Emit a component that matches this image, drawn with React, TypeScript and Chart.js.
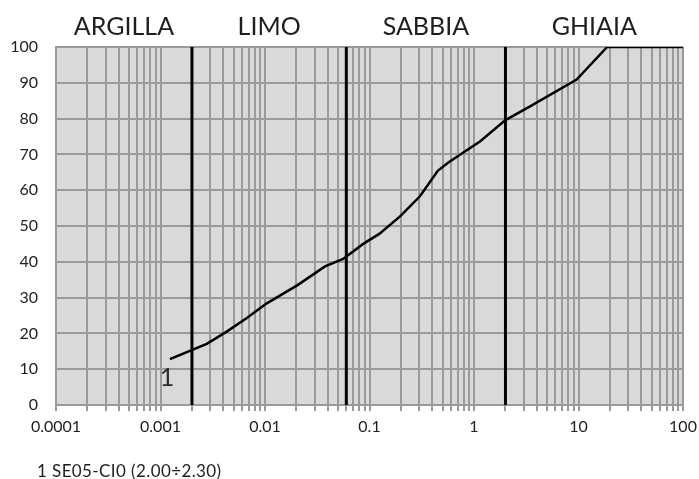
import React, { useEffect, useRef } from "react";
import { Chart, registerables } from "chart.js";

Chart.register(...registerables);

// Grain size curve: diameter (mm) vs percent passing
const grainSize = [0.00123, 0.00277, 0.0043, 0.0067, 0.0104, 0.0205, 0.0375, 0.056, 0.087, 0.124, 0.196, 0.304, 0.45, 0.56, 0.734, 1.14, 2, 3.44, 9.6, 18.8, 100];
const passing = [12.8, 17.1, 20.5, 24.3, 28.4, 33.5, 38.7, 40.8, 45.0, 47.8, 52.7, 58.3, 65.4, 67.6, 69.9, 73.6, 79.6, 83.4, 90.9, 100, 100];

// Soil class boundaries (mm) and class names
const zoneBounds = [0.002, 0.06, 2];
const zoneNames = ["ARGILLA", "LIMO", "SABBIA", "GHIAIA"];

// Axis extents and labels
const xDecades = [0.0001, 0.001, 0.01, 0.1, 1, 10, 100];
const xTickLabels = ["0.0001", "0.001", "0.01", "0.1", "1", "10", "100"];
const yMin = 0;
const yMax = 100;
const yStep = 10;

const curveTag = "1";
const sampleCaption = "1 SE05-CI0 (2.00÷2.30)";

const FONT = "Lato, 'Open Sans', sans-serif";
const GRID = "#9a9a9a";

const decorPlugin = {
  id: "decor",
  beforeDraw(chart: any) {
    const { ctx, chartArea } = chart;
    ctx.save();
    ctx.fillStyle = "#d9d9d9";
    ctx.fillRect(chartArea.left, chartArea.top, chartArea.right - chartArea.left, chartArea.bottom - chartArea.top);
    ctx.restore();
  },
  afterDraw(chart: any) {
    const { ctx, chartArea } = chart;
    const xs = chart.scales.x;
    ctx.save();
    // class names centred over each band
    const edges = [chartArea.left, ...zoneBounds.map((b) => xs.getPixelForValue(b)), chartArea.right];
    ctx.fillStyle = "#1e1e1e";
    ctx.font = `25px ${FONT}`;
    ctx.textAlign = "center";
    ctx.textBaseline = "middle";
    zoneNames.forEach((name, i) => {
      ctx.fillText(name, (edges[i] + edges[i + 1]) / 2, 27);
    });
    // curve tag near its first point
    const meta = chart.getDatasetMeta(0);
    const p0 = meta.data[0];
    ctx.font = `25px ${FONT}`;
    ctx.fillStyle = "#2a2a2a";
    ctx.fillText(curveTag, p0.x - 3, p0.y + 19);
    // sample caption
    ctx.font = `17px ${FONT}`;
    (ctx as any).letterSpacing = "0.4px";
    ctx.fillStyle = "#1e1e1e";
    ctx.textAlign = "left";
    ctx.textBaseline = "alphabetic";
    ctx.fillText(sampleCaption, 37, 477);
    ctx.restore();
  },
};

export default function App() {
  const ref = useRef<HTMLCanvasElement | null>(null);

  useEffect(() => {
    if (!ref.current) return;
    const curve = grainSize.map((x, i) => ({ x, y: passing[i] }));
    const boundaryLines = zoneBounds.map((b) => ({
      data: [
        { x: b, y: yMin },
        { x: b, y: yMax },
      ],
      showLine: true,
      borderColor: "#000",
      borderWidth: 3,
      pointRadius: 0,
    }));

    const chart = new Chart(ref.current, {
      type: "scatter",
      data: {
        datasets: [
          {
            data: curve,
            showLine: true,
            borderColor: "#000",
            borderWidth: 2.5,
            pointRadius: 0,
            tension: 0,
          },
          ...boundaryLines,
        ] as any,
      },
      options: {
        animation: false,
        responsive: false,
        layout: { padding: { left: 0, right: 16, top: 47, bottom: 0 } },
        plugins: { legend: { display: false }, tooltip: { enabled: false } },
        scales: {
          x: {
            type: "logarithmic",
            min: xDecades[0],
            max: xDecades[xDecades.length - 1],
            afterBuildTicks(scale: any) {
              const ticks: { value: number }[] = [];
              for (let i = 0; i < xDecades.length - 1; i++) {
                for (let m = 1; m <= 9; m++) {
                  ticks.push({ value: parseFloat((m * xDecades[i]).toPrecision(6)) });
                }
              }
              ticks.push({ value: xDecades[xDecades.length - 1] });
              scale.ticks = ticks;
            },
            afterFit(scale: any) {
              scale.height = 74;
              scale.paddingLeft = 0;
              scale.paddingRight = 0;
            },
            grid: { color: GRID, lineWidth: 2, tickLength: 6, tickColor: GRID },
            border: { color: GRID, width: 2 },
            ticks: {
              autoSkip: false,
              maxRotation: 0,
              padding: 6,
              color: "#1e1e1e",
              font: { family: FONT, size: 16 },
              callback(value: any) {
                const v = Number(value);
                const i = xDecades.findIndex((d) => Math.abs(Math.log10(v) - Math.log10(d)) < 1e-6);
                return i >= 0 ? xTickLabels[i] : "";
              },
            },
          },
          y: {
            type: "linear",
            min: yMin,
            max: yMax,
            afterFit(scale: any) {
              scale.width = 56;
              scale.paddingTop = 0;
              scale.paddingBottom = 0;
            },
            grid: { color: GRID, lineWidth: 2, drawTicks: false },
            border: { color: GRID, width: 2 },
            ticks: {
              stepSize: yStep,
              padding: 18,
              color: "#1e1e1e",
              font: { family: FONT, size: 16 },
            },
          },
        },
      } as any,
      plugins: [decorPlugin],
    });

    return () => chart.destroy();
  }, []);

  return (
    <canvas
      ref={ref}
      width={699}
      height={479}
      style={{ position: "absolute", left: 0, top: 0, display: "block" }}
    />
  );
}
